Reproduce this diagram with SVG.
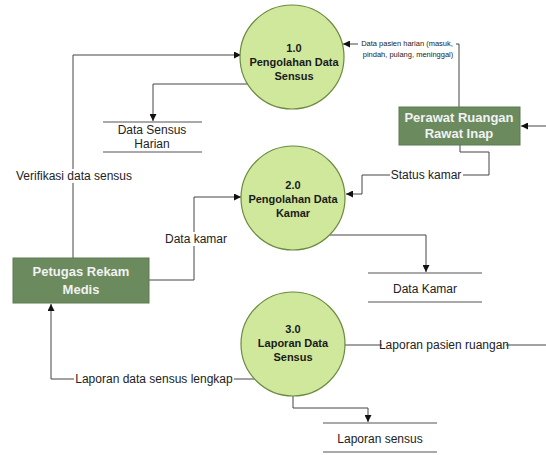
<svg xmlns="http://www.w3.org/2000/svg" width="546" height="455" viewBox="0 0 546 455">
<style>
.proc{fill:#d0e89c;stroke:#6b8a3e;stroke-width:1.2}
.ptxt{font-family:"Liberation Sans",Arial,sans-serif;font-weight:bold;font-size:11px;fill:#1a1a1a;text-anchor:middle}
.ext{fill:#6b8a5e;stroke:#5d7a50;stroke-width:1}
.etxt{font-family:"Liberation Sans",Arial,sans-serif;font-weight:bold;font-size:13px;fill:#f2f2f2;text-anchor:middle}
.store{stroke:#555;stroke-width:1.2}
.stxt{font-family:"Liberation Sans",Arial,sans-serif;font-size:12px;fill:#222;text-anchor:middle}
.flow{fill:none;stroke:#444;stroke-width:1}
.lbl{font-family:"Liberation Sans",Arial,sans-serif;font-size:12px;fill:#222;text-anchor:middle}
.bg{fill:#fff}
</style>
<defs>
<marker id="ah" viewBox="0 0 8 8" refX="8" refY="4" markerWidth="7" markerHeight="7" markerUnits="userSpaceOnUse" orient="auto">
<path d="M0,0 L8,4 L0,8 z" fill="#111"/>
</marker>
</defs>
<rect width="546" height="455" fill="#fff"/>
<g id="connectors">
<path class="flow" d="M459,107 V44 H343" marker-end="url(#ah)"/>
<path class="flow" d="M248,84 H153 V121" marker-end="url(#ah)"/>
<path class="flow" d="M73,258 V55 H241" marker-end="url(#ah)"/>
<path class="flow" d="M460,145 V152 H489 V175 H362 V194 H346" marker-end="url(#ah)"/>
<path class="flow" d="M149,280 H194 V197 H241" marker-end="url(#ah)"/>
<path class="flow" d="M330,235 H426 V272" marker-end="url(#ah)"/>
<path class="flow" d="M546,126 H521" marker-end="url(#ah)"/>
<path class="flow" d="M345,345 H546"/>
<path class="flow" d="M255,379 H51 V304" marker-end="url(#ah)"/>
<path class="flow" d="M293,396 V408 H368 V422" marker-end="url(#ah)"/>
<rect class="bg" x="358" y="38" width="98" height="24"/>
<text font-family="Liberation Sans,Arial,sans-serif" font-size="7.5" fill="#222" text-anchor="middle"><tspan x="407" y="46">Data pasien harian (masuk,</tspan><tspan x="408" y="57">pindah, pulang, meninggal)</tspan></text>
<rect class="bg" x="18" y="169" width="112" height="14"/>
<text class="lbl" x="74" y="180" font-size="11">Verifikasi data sensus</text>
<rect class="bg" x="390" y="168" width="73" height="14"/>
<text class="lbl" x="426" y="179">Status kamar</text>
<rect class="bg" x="168" y="232" width="56" height="14"/>
<text class="lbl" x="196" y="243" font-size="11">Data kamar</text>
<rect class="bg" x="382" y="338" width="124" height="14"/>
<text class="lbl" x="444" y="349" font-size="11.5">Laporan pasien ruangan</text>
<rect class="bg" x="74" y="372" width="160" height="14"/>
<text class="lbl" x="154" y="383">Laporan data sensus lengkap</text>
</g>
<g id="p1">
<circle class="proc" cx="292" cy="57" r="52"/>
<text class="ptxt"><tspan x="294" y="52">1.0</tspan><tspan x="294" y="66">Pengolahan Data</tspan><tspan x="294" y="80">Sensus</tspan></text>
</g>
<g id="p2">
<circle class="proc" cx="293" cy="198" r="52"/>
<text class="ptxt"><tspan x="293" y="189">2.0</tspan><tspan x="293" y="203">Pengolahan Data</tspan><tspan x="293" y="217">Kamar</tspan></text>
</g>
<g id="p3">
<circle class="proc" cx="293" cy="344" r="52"/>
<text class="ptxt"><tspan x="293" y="333">3.0</tspan><tspan x="293" y="347">Laporan Data</tspan><tspan x="293" y="361">Sensus</tspan></text>
</g>
<g id="e-perawat">
<rect class="ext" x="399" y="107" width="121" height="38"/>
<text class="etxt" font-size="12.5"><tspan x="459" y="122">Perawat Ruangan</tspan><tspan x="459" y="138">Rawat Inap</tspan></text>
</g>
<g id="e-petugas">
<rect class="ext" x="13" y="258" width="136" height="45"/>
<text class="etxt"><tspan x="81" y="276">Petugas Rekam</tspan><tspan x="81" y="294">Medis</tspan></text>
</g>
<g id="s-sensus">
<line class="store" x1="103" y1="122" x2="202" y2="122"/>
<line class="store" x1="103" y1="152" x2="202" y2="152"/>
<text class="stxt"><tspan x="152" y="134">Data Sensus</tspan><tspan x="152" y="148">Harian</tspan></text>
</g>
<g id="s-kamar">
<line class="store" x1="368" y1="273" x2="482" y2="273"/>
<line class="store" x1="368" y1="302" x2="482" y2="302"/>
<text class="stxt" x="425" y="293">Data Kamar</text>
</g>
<g id="s-laporan">
<line class="store" x1="323" y1="423" x2="437" y2="423"/>
<line class="store" x1="323" y1="452" x2="437" y2="452"/>
<text class="stxt" x="380" y="443">Laporan sensus</text>
</g>
</svg>
